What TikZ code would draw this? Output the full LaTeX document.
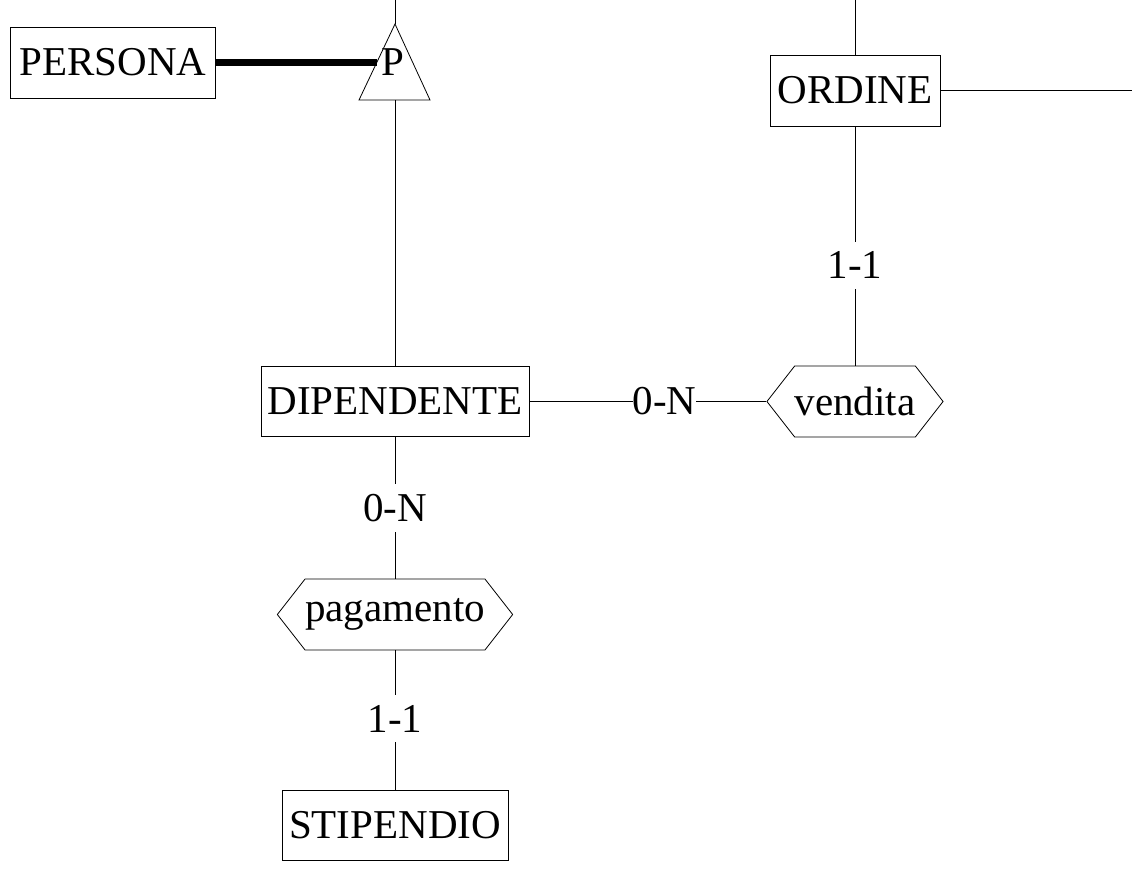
\documentclass[tikz,border=0pt]{standalone}
\usepackage{fontspec}
\setmainfont{Liberation Serif}
\usetikzlibrary{shapes.symbols}
\tikzset{
     %set default line width
    every picture/.style={line width=0.8pt},
    entity/.style={
        draw,
        minimum height=71pt,
        inner sep=0pt,
        font=\fontsize{41}{48}\selectfont,
    },
    relation/.style={
        draw,
        signal,
        signal to=east and west,
        signal pointer angle=104,
        minimum height=71pt,
        inner sep=0pt,
        font=\fontsize{41}{48}\selectfont,
    },
    card/.style={
        fill=white,
        inner xsep=0pt,
        inner ysep=10pt,
        font=\fontsize{41}{48}\selectfont,
    },
    total/.style={
        line width=7.5pt,
    }
}
\begin{document}
\begin{tikzpicture}[x=1pt,y=1pt,yscale=-1]
\useasboundingbox (0,0) rectangle (1132,878);

%Shape: Rectangle [persona]
\node[entity, minimum width=205pt] (persona) at (113,62.5) {PERSONA};
%Shape: Rectangle [ordine]
\node[entity, minimum width=170pt] (ordine) at (855,90.5) {ORDINE};
%Shape: Rectangle [dipendente]
\node[entity, minimum width=268pt, minimum height=70pt] (dipendente) at (395,401.5) {DIPENDENTE};
%Shape: Rectangle [stipendio]
\node[entity, minimum width=226pt, minimum height=70pt] (stipendio) at (395,825) {STIPENDIO};
%Shape: Hexagon [vendita]
\node[relation, minimum width=170pt] (vendita) at (855,401.5) {vendita};
%Shape: Hexagon [pagamento]
\node[relation, minimum width=232pt] (pagamento) at (395,614.5) {pagamento};

%Shape: Triangle [isa]
\coordinate (isa-top) at (395,24);
\coordinate (isa-left) at (359,100);
\coordinate (isa-right) at (430,100);
\coordinate (isa-base) at (395,100);
\coordinate (isa-join) at (377,62.5);
\draw (isa-top) -- (isa-right) -- (isa-left) -- cycle;
% Text Node
\node[font=\fontsize{41}{48}\selectfont, inner sep=0pt] (isa) at (393,62.5) {P};

% free ends
\coordinate (isa-up) at (395,0);
\coordinate (ordine-up) at (855,0);
\coordinate (ordine-out) at (1132,90.5);

%Connectors
\draw[total] (persona.east) -- (isa-join);
\draw (isa-up) -- (isa-top);
\draw (isa-base) -- (dipendente.north);
\draw (ordine-up) -- (ordine.north);
\draw (ordine.east) -- (ordine-out);
\draw (ordine.south) -- node[card, pos=0.58] (c-ordine) {1-1} (vendita.north);
\draw (dipendente.east) -- node[card, pos=0.57] (c-vendita) {0-N} (vendita.west);
\draw (dipendente.south) -- node[card, pos=0.5] (c-pagamento) {0-N} (pagamento.north);
\draw (pagamento.south) -- node[card, pos=0.49] (c-stipendio) {1-1} (stipendio.north);
\end{tikzpicture}
\end{document}
